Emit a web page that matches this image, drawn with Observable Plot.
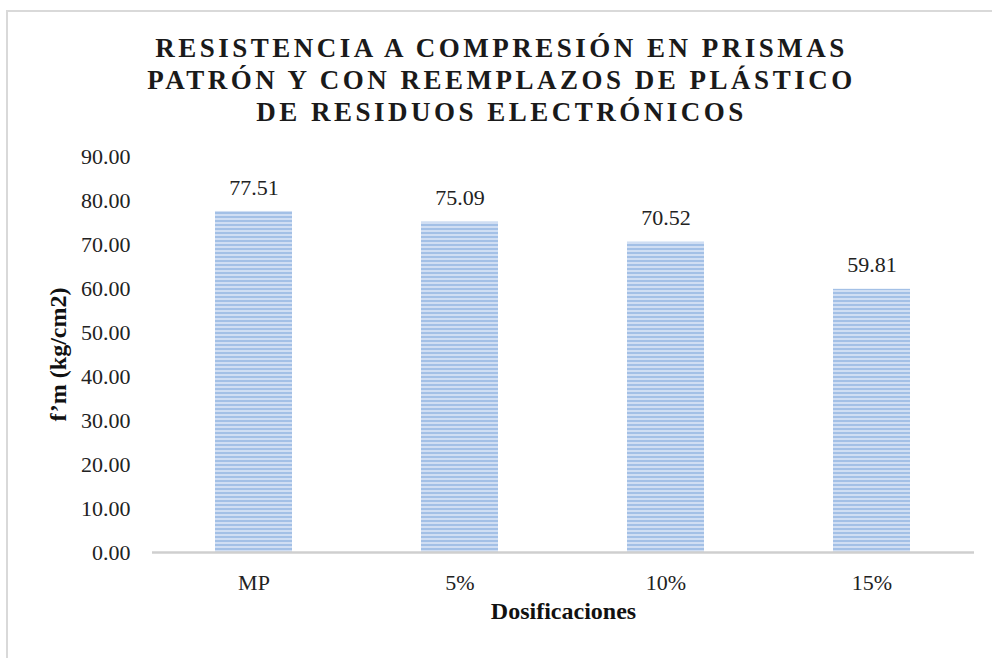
<!DOCTYPE html>
<html>
<head>
<meta charset="utf-8">
<script src="https://cdn.jsdelivr.net/npm/d3@7"></script>
<script src="https://cdn.jsdelivr.net/npm/@observablehq/plot@0.6"></script>
<style>
  html, body { margin: 0; padding: 0; background: #fff; }
  #wrap { position: relative; width: 992px; height: 658px; overflow: hidden; font-family: "Liberation Serif", "Times New Roman", serif; }
  #frame { position: absolute; left: 6px; top: 10px; width: 990px; height: 660px; border-top: 2px solid #d9d9d9; border-left: 2px solid #d9d9d9; box-sizing: border-box; }
  #title { position: absolute; left: 0; top: 32px; width: 1003px; text-align: center; font-family: "Liberation Serif", "Times New Roman", serif; font-weight: bold; font-size: 27px; line-height: 32px; letter-spacing: 3.5px; color: #1a1a1a; }
  #chart { position: absolute; left: 0; top: 0; }
</style>
</head>
<body>
<div id="wrap">
  <div id="frame"></div>
  <div id="chart"></div>
  <div id="title">RESISTENCIA A COMPRESIÓN EN PRISMAS<br>PATRÓN Y CON REEMPLAZOS DE PLÁSTICO<br>DE RESIDUOS ELECTRÓNICOS</div>
</div>
<script>
const categories = ["MP", "5%", "10%", "15%"];
const values = [77.51, 75.09, 70.52, 59.81];
const yTicks = [0, 10, 20, 30, 40, 50, 60, 70, 80, 90];

const data = categories.map((c, i) => ({cat: c, val: values[i]}));

const chart = Plot.plot({
  width: 992,
  height: 658,
  marginLeft: 152,
  marginRight: 18,
  marginTop: 156,
  marginBottom: 106,
  style: {fontFamily: "Liberation Serif, serif", fontSize: "22px", color: "#222", background: "transparent"},
  x: {domain: categories, paddingInner: 0.626, paddingOuter: 0.3, label: null},
  y: {domain: [0, 90], label: null},
  marks: [
    Plot.barY(data, {x: "cat", y: "val", fill: "url(#stripes)"}),
    Plot.ruleY([0], {stroke: "#cfcfcf", strokeWidth: 2.5}),
    Plot.text(data, {x: "cat", y: "val", text: d => d.val.toFixed(2), dy: -24, fontSize: 22, fill: "#222"}),
    Plot.axisY({ticks: yTicks, tickFormat: d => d.toFixed(2), tickSize: 0, tickPadding: 22, label: null, fontSize: 22}),
    Plot.axisX({tickSize: 0, tickPadding: 22, label: null, fontSize: 22}),
    Plot.text(["f’m (kg/cm2)"], {frameAnchor: "left", textAnchor: "middle", dx: -94, rotate: -90, fontWeight: "bold", fontSize: 24, fill: "#111"}),
    Plot.text(["Dosificaciones"], {frameAnchor: "bottom", dy: 66, fontWeight: "bold", fontSize: 24, fill: "#111"})
  ]
});

const ns = "http://www.w3.org/2000/svg";
const defs = document.createElementNS(ns, "defs");
const pat = document.createElementNS(ns, "pattern");
pat.setAttribute("id", "stripes");
pat.setAttribute("patternUnits", "userSpaceOnUse");
pat.setAttribute("width", "8");
pat.setAttribute("height", "4");
const r1 = document.createElementNS(ns, "rect");
r1.setAttribute("width", "8"); r1.setAttribute("height", "4"); r1.setAttribute("fill", "#d0def3");
const r2 = document.createElementNS(ns, "rect");
r2.setAttribute("width", "8"); r2.setAttribute("height", "2"); r2.setAttribute("fill", "#a3c0e6");
pat.appendChild(r1); pat.appendChild(r2);
defs.appendChild(pat);
chart.insertBefore(defs, chart.firstChild);
document.getElementById("chart").appendChild(chart);
</script>
</body>
</html>
